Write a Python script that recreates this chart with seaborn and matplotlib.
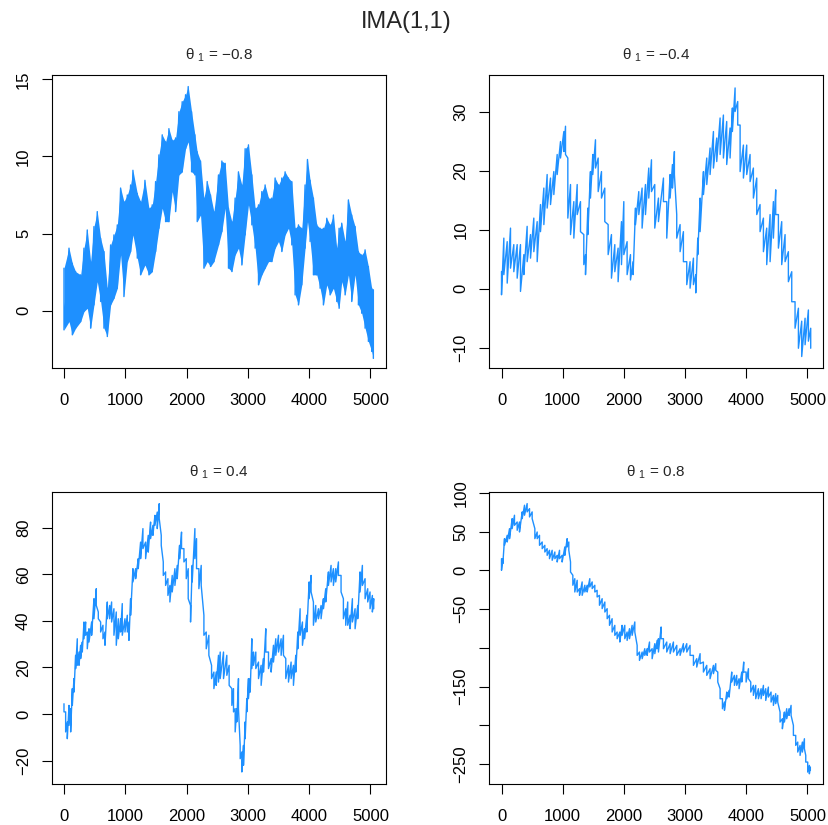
import numpy as np
import pandas as pd
import seaborn as sns
import matplotlib.pyplot as plt

sns.set_theme(style="ticks")
plt.rcParams['font.family'] = ['Liberation Sans', 'DejaVu Sans']
plt.rcParams['mathtext.fontset'] = 'custom'
plt.rcParams['mathtext.rm'] = 'Liberation Sans'
plt.rcParams['mathtext.it'] = 'Liberation Sans:italic'

blue = '#1E90FF'

# readings: time, upper and lower edge of the noise band
t_a = [0, 82, 136, 190, 272, 326, 380, 435, 489, 543, 598, 652, 707, 761, 815, 870, 924, 978, 1033, 1087,
       1125, 1196, 1250, 1321, 1386, 1440, 1495, 1549, 1603, 1658, 1712, 1766, 1821, 1875, 1929, 1984, 2027, 2082, 2136, 2174,
       2228, 2283, 2337, 2391, 2446, 2521, 2576, 2630, 2684, 2739, 2793, 2847, 2902, 2956, 3010, 3065, 3119, 3174, 3228, 3282,
       3337, 3391, 3445, 3500, 3554, 3608, 3663, 3717, 3771, 3826, 3880, 3934, 3973, 4016, 4070, 4125, 4179, 4233, 4288, 4342,
       4396, 4451, 4489, 4532, 4587, 4641, 4695, 4750, 4804, 4858, 4913, 4967, 5021, 5048]
hi_a = [2.75, 4.05, 3.07, 2.53, 2.32, 4.05, 5.23, 3.18, 5.45, 6.42, 4.69, 3.83, 1.45, 4.26, 4.91, 5.56, 7.95, 7.07, 7.5, 8.15,
        9.1, 7.6, 7.07, 8.45, 6.64, 6.86, 8.37, 10.1, 11.4, 10.95, 11.8, 11.05, 11.2, 12.9, 13.55, 14.0, 14.53, 12.9, 11.4, 10.3,
        9.7, 7.3, 8.37, 7.5, 6.42, 8.8, 9.7, 9.55, 6.64, 5.77, 7.3, 9.0, 8.15, 10.5, 10.75, 8.8, 6.64, 6.86, 7.72, 8.15,
        7.3, 7.3, 8.6, 8.15, 8.6, 9.0, 8.6, 8.37, 5.34, 5.56, 5.34, 8.15, 9.8, 8.45, 7.3, 5.56, 5.34, 5.34, 5.99, 5.56,
        6.2, 4.05, 5.34, 5.67, 4.48, 7.18, 6.2, 5.45, 3.83, 3.61, 3.94, 2.86, 1.45, 1.35]
lo_a = [-1.25, -0.71, -1.57, -1.14, -0.71, -0.06, 0.15, -1.14, 0.37, 1.88, 0.59, -1.14, -1.68, 0.37, 0.8, 1.45, 3.61, 0.91, 3.18, 3.83,
        4.91, 3.4, 2.32, 2.96, 2.32, 2.53, 3.83, 5.34, 6.64, 5.77, 5.77, 7.72, 6.42, 8.8, 9.0, 10.5, 10.95, 9.0, 8.8, 5.77,
        6.2, 2.75, 3.18, 2.86, 3.18, 4.26, 5.13, 6.64, 2.75, 2.53, 3.61, 4.05, 2.96, 4.91, 6.86, 5.56, 4.05, 1.67, 2.32, 2.75,
        3.18, 3.18, 4.05, 4.48, 3.83, 4.91, 5.34, 4.26, 1.02, 0.37, 1.67, 4.05, 5.77, 4.48, 2.32, 2.32, 1.45, 0.37, 1.67, 1.02,
        1.45, 0.59, 0.15, 1.88, 1.02, 2.32, 0.59, 2.32, 0.37, -0.17, -1.14, -2.0, -2.65, -3.1]

t_b = [0, 38, 93, 147, 201, 256, 310, 365, 419, 474, 528, 583, 637, 692, 746, 801, 855, 910, 964, 1019,
       1046, 1084, 1128, 1182, 1237, 1291, 1345, 1373, 1411, 1454, 1492, 1536, 1580, 1634, 1688, 1743, 1797, 1852, 1906, 1961,
       1999, 2053, 2108, 2151, 2190, 2244, 2298, 2353, 2407, 2451, 2505, 2565, 2647, 2701, 2756, 2794, 2826, 2864, 2919, 2973,
       3028, 3082, 3137, 3175, 3208, 3246, 3301, 3355, 3409, 3464, 3518, 3573, 3627, 3681, 3736, 3774, 3818, 3861, 3900, 3954,
       4008, 4063, 4117, 4172, 4226, 4281, 4335, 4390, 4444, 4482, 4526, 4580, 4635, 4689, 4744, 4798, 4853, 4907, 4962, 5016, 5054]
hi_b = [2.94, 8.6, 8.0, 10.3, 7.5, 7.5, 7.5, 5.8, 10.6, 9.2, 12.0, 11.4, 14.3, 17.1, 19.4, 18.8, 19.9, 22.8, 25.0, 26.7,
        27.6, 22.2, 17.7, 14.8, 17.7, 14.8, 9.2, 5.8, 13.7, 19.9, 22.8, 25.3, 22.2, 19.9, 17.1, 10.9, 9.2, 7.5, 6.9, 11.4,
        14.8, 8.0, 5.8, 4.6, 13.7, 16.5, 17.1, 17.7, 20.5, 21.9, 17.7, 15.4, 18.8, 14.8, 19.4, 21.1, 23.3, 12.6, 10.9, 9.7,
        4.6, 4.6, 5.2, 2.4, 8.6, 15.4, 19.9, 22.2, 23.9, 26.7, 25.6, 29.0, 29.5, 28.4, 27.3, 30.7, 34.1, 31.8, 27.8, 24.4,
        24.4, 22.8, 20.5, 18.8, 14.3, 12.0, 10.3, 12.6, 14.8, 16.8, 12.6, 11.4, 9.2, 6.3, 2.9, -2.2, -3.3, -5.5, -5.0, -3.6, -6.7]
lo_b = [-1.02, 2.4, 0.96, 3.5, 2.9, 1.8, -0.45, 2.4, 4.6, 5.2, 6.3, 4.6, 9.7, 10.9, 13.7, 14.3, 16.0, 19.4, 22.2, 23.3,
        22.8, 12.0, 9.2, 8.6, 12.6, 9.7, 4.1, 2.4, 9.2, 15.4, 19.4, 20.5, 16.5, 15.4, 11.4, 5.8, 1.8, 2.9, 1.2, 4.1,
        5.8, 2.4, 1.5, 2.4, 10.9, 12.6, 10.3, 12.6, 15.4, 16.5, 10.3, 11.4, 14.8, 8.6, 15.4, 17.1, 19.4, 8.6, 6.3, 4.6,
        0.7, 0.1, 0.7, -0.7, 5.8, 9.7, 16.0, 17.7, 19.4, 20.5, 21.6, 22.8, 22.2, 21.1, 22.2, 26.7, 30.1, 27.8, 19.9, 18.8,
        19.4, 18.2, 15.4, 12.6, 9.7, 6.3, 4.1, 4.6, 8.6, 12.6, 6.9, 4.1, 4.6, 1.2, -2.2, -6.7, -10.1, -11.5, -9.5, -8.9, -10.1]

t_c = [0, 27, 54, 82, 109, 136, 163, 190, 217, 245, 272, 299, 326, 353, 380, 408, 451, 489, 527, 560,
       598, 636, 669, 707, 745, 777, 815, 853, 886, 924, 951, 995, 1033, 1060, 1087, 1125, 1169, 1212, 1250, 1288,
       1332, 1375, 1413, 1451, 1484, 1522, 1554, 1587, 1620, 1658, 1696, 1728, 1766, 1810, 1848, 1886, 1918, 1957, 1995, 2027,
       2065, 2092, 2136, 2163, 2201, 2239, 2283, 2321, 2364, 2408, 2446, 2484, 2521, 2549, 2603, 2657, 2695, 2739, 2766, 2793,
       2820, 2847, 2875, 2902, 2929, 2956, 2983, 3010, 3038, 3065, 3092, 3130, 3174, 3217, 3255, 3293, 3337, 3380, 3418, 3456,
       3500, 3543, 3581, 3619, 3663, 3706, 3744, 3782, 3815, 3853, 3891, 3924, 3962, 4000, 4032, 4070, 4108, 4152, 4195, 4233,
       4271, 4315, 4358, 4396, 4434, 4478, 4521, 4559, 4597, 4630, 4668, 4706, 4750, 4793, 4831, 4869, 4913, 4956, 4994, 5032, 5054]
hi_c = [4.4, 0.9, -3.4, 3.7, 2.3, 10.9, 15.2, 25.2, 32.3, 26.6, 29.5, 30.9, 39.5, 39.5, 35.2, 36.6, 39.5, 49.5, 53.8, 43.8,
        39.5, 38.1, 35.2, 48.1, 46.6, 48.1, 45.2, 43.8, 40.9, 40.9, 47.4, 40.9, 42.4, 39.5, 49.5, 62.4, 62.4, 66.7, 73.8, 79.6,
        73.8, 76.7, 82.4, 81.0, 85.3, 86.7, 90.3, 76.7, 65.3, 61.0, 58.1, 55.2, 59.5, 62.4, 63.8, 72.4, 78.1, 71.0, 66.7, 62.4,
        46.6, 63.8, 79.6, 75.3, 62.4, 63.8, 42.4, 35.2, 33.8, 20.9, 18.0, 18.0, 25.2, 26.6, 26.6, 25.2, 20.9, 10.9, 10.9, 2.3,
        2.3, 15.2, -13.5, -16.3, -13.5, -3.4, 6.6, 15.2, 15.2, 32.3, 26.6, 26.6, 22.3, 20.9, 23.8, 36.6, 26.6, 23.8, 29.5, 32.3,
        33.8, 32.3, 33.8, 23.8, 20.9, 22.3, 20.9, 25.2, 35.2, 45.2, 39.5, 36.6, 42.4, 56.7, 59.5, 48.1, 46.6, 45.2, 46.6, 49.5,
        53.8, 61.0, 63.8, 62.4, 62.4, 65.3, 59.5, 49.5, 45.2, 48.1, 42.4, 49.5, 45.2, 46.6, 61.0, 63.8, 58.1, 53.8, 52.4, 50.9, 49.5]
lo_c = [0.9, -7.7, -10.6, -4.9, -7.7, 3.7, 9.4, 19.5, 20.9, 20.9, 23.8, 26.6, 32.3, 33.8, 28.0, 30.9, 33.8, 40.9, 46.6, 40.9,
        35.2, 32.3, 29.5, 40.9, 40.9, 39.5, 33.8, 29.5, 32.3, 35.2, 33.8, 35.2, 35.2, 31.6, 42.4, 56.7, 58.1, 62.4, 66.7, 71.0,
        66.7, 69.5, 75.3, 76.7, 81.0, 79.6, 83.9, 72.4, 59.5, 55.2, 50.9, 48.1, 52.4, 55.2, 58.1, 66.7, 71.0, 65.3, 58.1, 49.5,
        39.5, 56.7, 66.7, 62.4, 53.8, 55.2, 33.8, 28.0, 25.2, 15.2, 10.9, 12.3, 13.7, 15.2, 15.2, 16.6, 12.3, 3.7, 0.9, -7.7,
        -3.4, 2.3, -19.2, -24.9, -22.0, -10.6, 0.9, 6.6, 9.4, 19.5, 20.9, 19.5, 15.2, 12.3, 18.0, 26.6, 19.5, 18.0, 22.3, 25.2,
        26.6, 25.2, 25.2, 15.2, 13.7, 15.2, 12.3, 18.0, 28.0, 33.8, 29.5, 32.3, 35.2, 49.5, 52.4, 38.1, 39.5, 40.9, 40.9, 45.2,
        48.1, 55.2, 56.7, 55.2, 56.7, 59.5, 52.4, 40.9, 38.1, 38.1, 36.6, 39.5, 36.6, 40.9, 52.4, 55.2, 49.5, 48.1, 45.2, 43.8, 45.2]

t_d = [0, 22, 49, 93, 131, 174, 212, 256, 294, 338, 376, 419, 458, 501, 545, 583, 621, 665, 708, 746,
       784, 828, 872, 910, 948, 991, 1035, 1073, 1100, 1128, 1166, 1198, 1237, 1275, 1318, 1362, 1400, 1443, 1482, 1525,
       1563, 1601, 1645, 1689, 1727, 1765, 1808, 1852, 1890, 1934, 1971, 2015, 2053, 2092, 2135, 2179, 2217, 2255, 2299, 2342,
       2380, 2419, 2462, 2506, 2544, 2565, 2609, 2647, 2701, 2756, 2810, 2865, 2919, 2973, 3028, 3082, 3137, 3191, 3246, 3300,
       3355, 3409, 3464, 3502, 3535, 3573, 3611, 3644, 3682, 3720, 3763, 3807, 3845, 3883, 3927, 3959, 3998, 4036, 4074, 4117,
       4155, 4199, 4243, 4281, 4319, 4362, 4406, 4444, 4482, 4515, 4553, 4591, 4624, 4662, 4700, 4733, 4771, 4809, 4842, 4880,
       4918, 4951, 4973, 5005, 5032, 5048]
hi_d = [15.0, 15.0, 40.8, 45.1, 53.7, 66.6, 71.0, 62.3, 62.3, 75.3, 83.9, 86.0, 79.5, 75.3, 53.7, 49.4, 45.1, 36.5, 32.2, 27.9,
        25.8, 25.8, 23.6, 19.3, 25.8, 19.3, 30.1, 40.8, 36.5, 10.7, -6.4, -10.8, -12.9, -23.6, -15.0, -19.3, -19.3, -10.8, -15.0, -19.3,
        -25.8, -32.3, -36.6, -40.9, -49.5, -58.0, -62.4, -71.0, -79.6, -79.6, -71.0, -71.0, -79.6, -75.3, -71.0, -66.6, -96.8, -105.4, -105.4, -101.1,
        -101.1, -92.5, -101.1, -94.6, -90.4, -88.2, -73.1, -88.2, -92.5, -94.6, -92.5, -96.8, -101.1, -94.6, -94.6, -96.8, -109.7, -114.0, -107.5, -118.3,
        -122.6, -126.9, -122.6, -120.4, -131.2, -152.7, -165.6, -169.9, -157.0, -154.9, -131.2, -135.5, -135.5, -139.8, -131.2, -118.3, -131.2, -126.9, -144.1, -148.4,
        -148.4, -152.7, -152.7, -148.4, -152.7, -150.6, -157.0, -161.3, -159.1, -161.3, -182.8, -191.4, -182.8, -178.5, -178.5, -174.2, -200.0, -212.9, -221.5, -225.8,
        -221.5, -217.2, -238.7, -247.3, -251.6, -253.7]
lo_d = [0.0, 8.6, 32.2, 36.5, 40.8, 53.7, 58.0, 51.6, 49.4, 66.6, 71.0, 75.3, 68.8, 66.6, 40.8, 40.8, 32.2, 27.9, 23.6, 19.3,
        15.0, 12.9, 15.0, 10.7, 15.0, 10.7, 19.3, 30.1, 25.8, -2.2, -19.3, -28.0, -28.0, -32.3, -32.3, -28.0, -28.0, -21.5, -23.6, -28.0,
        -34.4, -45.1, -49.4, -53.8, -62.4, -71.0, -79.6, -83.9, -88.2, -92.5, -83.9, -88.2, -90.4, -88.2, -83.9, -79.6, -109.7, -116.2, -114.0, -109.7,
        -109.7, -105.4, -114.0, -107.5, -101.1, -105.4, -88.2, -101.1, -105.4, -107.5, -105.4, -109.7, -109.7, -105.4, -105.4, -109.7, -122.6, -124.8, -120.4, -131.2,
        -135.5, -139.8, -133.3, -129.0, -144.1, -165.6, -178.5, -180.6, -165.6, -163.5, -144.1, -148.4, -148.4, -152.7, -144.1, -131.2, -144.1, -139.8, -157.0, -161.3,
        -165.6, -165.6, -165.6, -161.3, -167.8, -163.5, -169.9, -174.2, -172.0, -169.9, -195.7, -204.3, -195.7, -191.4, -187.1, -187.1, -212.9, -225.8, -234.4, -238.7,
        -234.4, -230.1, -247.3, -260.2, -262.4, -258.0]

thetas = ['−0.8', '−0.4', '0.4', '0.8']
xticks = [0, 1000, 2000, 3000, 4000, 5000]
yticks_a = [0, 5, 10, 15]
yticks_b = [-10, 0, 10, 20, 30]
yticks_c = [-20, 0, 20, 40, 60, 80]
yticks_d = [-250, -200, -150, -100, -50, 0, 50, 100]
ylabels_d = ['−250', '', '−150', '', '−50', '0', '50', '100']

fig = plt.figure(figsize=(8.29, 8.25), dpi=100)
fig.patch.set_facecolor('white')

rects = [[0.0624, 0.5536, 0.4029, 0.3555], [0.5902, 0.5536, 0.4022, 0.3555],
         [0.0624, 0.0493, 0.4029, 0.354], [0.5902, 0.0493, 0.4022, 0.354]]
ylims = [(-3.74, 15.28), (-13.5, 36.3), (-30.2, 95.2), (-276, 100.6)]
series = [(t_a, hi_a, lo_a, yticks_a), (t_b, hi_b, lo_b, yticks_b),
          (t_c, hi_c, lo_c, yticks_c), (t_d, hi_d, lo_d, yticks_d)]
dense = [True, False, False, False]

for i, (t, hi, lo, yt) in enumerate(series):
    ax = fig.add_axes(rects[i])
    df = pd.DataFrame({'t': np.repeat(t, 2),
                       'y': np.column_stack([hi, lo]).ravel()})
    if dense[i]:
        ax.fill_between(t, lo, hi, color=blue, linewidth=0)
    sns.lineplot(data=df, x='t', y='y', sort=False, estimator=None,
                 color=blue, linewidth=1.0, ax=ax)
    ax.set_xlim(-200, 5250)
    ax.set_ylim(*ylims[i])
    ax.set_xticks(xticks)
    ax.set_xticklabels([str(v) for v in xticks])
    ax.set_yticks(yt)
    if i == 3:
        ax.set_yticklabels(ylabels_d)
    else:
        ax.set_yticklabels([str(v).replace('-', '−') for v in yt])
    for lab in ax.get_yticklabels():
        lab.set_rotation(90)
        lab.set_va('center')
    ax.tick_params(direction='out', length=7, width=0.8, color='black',
                   labelsize=12, labelcolor='black')
    ax.tick_params(axis='x', pad=11)
    ax.tick_params(axis='y', pad=8)
    for sp in ax.spines.values():
        sp.set_visible(True)
        sp.set_color('black')
        sp.set_linewidth(0.8)
    ax.set_xlabel('')
    ax.set_ylabel('')
    ax.grid(False)
    ax.text(0.5, 1.068, 'θ $_{1}$ = ' + thetas[i], transform=ax.transAxes,
            ha='center', va='center', fontsize=11)

fig.text(0.49, 1 - 22 / 825, 'IMA(1,1)', ha='center', va='center', fontsize=17)

plt.savefig('out.png', dpi=100, facecolor='white')
